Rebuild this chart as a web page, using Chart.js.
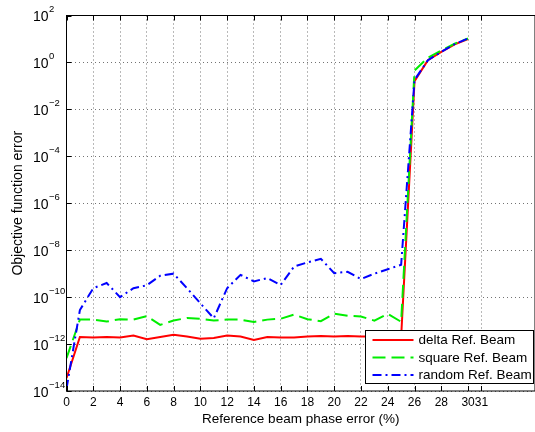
<!DOCTYPE html>
<html>
<head>
<meta charset="utf-8">
<script src="https://cdn.jsdelivr.net/npm/chart.js@4.4.1/dist/chart.umd.min.js"></script>
<style>
  html, body { margin: 0; padding: 0; background: #fff; }
</style>
</head>
<body>
<canvas id="c" width="535" height="432"></canvas>
<script>
// phase error (%) on x, objective function error on y (log)
const phaseErr = [0, 1, 2, 3, 4, 5, 6, 7, 8, 9, 10, 11, 12, 13, 14, 15, 16, 17, 18, 19, 20, 21, 22, 23, 24, 25, 26, 27, 28, 29, 30];

const deltaErr = [3.5e-14, 2.0e-12, 1.9e-12, 2.0e-12, 1.9e-12, 2.3e-12, 1.6e-12, 2.0e-12, 2.5e-12, 2.1e-12,
  1.7e-12, 1.8e-12, 2.3e-12, 2.1e-12, 1.5e-12, 2.0e-12, 1.9e-12, 1.9e-12, 2.1e-12, 2.2e-12,
  2.1e-12, 2.2e-12, 2.1e-12, 2.1e-12, 2.1e-12, 2.0e-12, 0.16, 1.25, 2.8, 5.9, 10];

const squareErr = [2.5e-13, 1.1e-11, 1.1e-11, 9.1e-12, 1.15e-11, 1.1e-11, 1.55e-11, 6.6e-12, 1.0e-11, 1.3e-11,
  1.2e-11, 1.0e-11, 1.1e-11, 1.1e-11, 8.7e-12, 1.1e-11, 1.2e-11, 1.8e-11, 1.15e-11, 9.5e-12,
  1.95e-11, 1.6e-11, 1.5e-11, 1.0e-11, 1.95e-11, 8.9e-12, 0.45, 1.6, 3.2, 6.3, 10.5];

const randomErr = [1.25e-14, 2.8e-11, 2.4e-10, 4.0e-10, 1.0e-10, 2.4e-10, 3.2e-10, 8.1e-10, 1.0e-9, 2.4e-10,
  5.5e-11, 1.25e-11, 2.4e-10, 8.9e-10, 4.7e-10, 6.5e-10, 3.3e-10, 2.0e-9, 3.0e-9, 4.3e-9,
  1.05e-9, 1.2e-9, 5.9e-10, 1.0e-9, 1.55e-9, 2.4e-9, 0.18, 1.25, 2.8, 6.0, 10.5];

const seriesNames = ['delta Ref. Beam', 'square Ref. Beam', 'random Ref. Beam'];
const xTicks = [0, 2, 4, 6, 8, 10, 12, 14, 16, 18, 20, 22, 24, 26, 28, 30, 31];
const yTickExp = [-14, -12, -10, -8, -6, -4, -2, 0, 2];

const FONT = 'Liberation Sans, Arial, Helvetica, sans-serif';
const pts = arr => phaseErr.map((x, i) => ({ x: x, y: arr[i] }));

// frame, inward ticks, 10^n labels and the boxed legend (matlab look)
const matlabBits = {
  id: 'matlabBits',
  afterDatasetsDraw(chart) {
    const ctx = chart.ctx;
    const a = chart.chartArea;
    const xs = chart.scales.x, ys = chart.scales.y;
    ctx.save();
    ctx.strokeStyle = '#000';
    ctx.lineWidth = 1;
    ctx.setLineDash([]);
    ctx.strokeRect(a.left, a.top, a.right - a.left, a.bottom - a.top);

    ctx.beginPath();
    xTicks.forEach(v => {
      const px = Math.round(xs.getPixelForValue(v)) + 0.5;
      ctx.moveTo(px, a.bottom); ctx.lineTo(px, a.bottom - 5);
      ctx.moveTo(px, a.top); ctx.lineTo(px, a.top + 5);
    });
    yTickExp.forEach(e => {
      const py = Math.round(ys.getPixelForValue(Math.pow(10, e))) + 0.5;
      ctx.moveTo(a.left, py); ctx.lineTo(a.left + 5, py);
    });
    ctx.stroke();

    // y tick labels 10^n
    ctx.fillStyle = '#000';
    ctx.textAlign = 'left';
    ctx.textBaseline = 'middle';
    yTickExp.forEach(e => {
      const py = ys.getPixelForValue(Math.pow(10, e));
      ctx.font = '14px ' + FONT;
      ctx.fillText('10', 33, py + 2);
      const w = ctx.measureText('10').width;
      ctx.font = '9.5px ' + FONT;
      ctx.fillText(e < 0 ? '\u2212' + Math.abs(e) : String(e), 33 + w + 0.5, py - 6);
    });

    // legend
    const lx = 365.5, ly = 330.5, lw = 168, lh = 53;
    ctx.fillStyle = '#fff';
    ctx.fillRect(lx, ly, lw, lh);
    ctx.strokeStyle = '#000';
    ctx.lineWidth = 1;
    ctx.strokeRect(lx, ly, lw, lh);
    ctx.font = '13.5px ' + FONT;
    chart.data.datasets.forEach((ds, i) => {
      const ry = 340 + i * 17.5;
      ctx.save();
      ctx.strokeStyle = ds.borderColor;
      ctx.lineWidth = ds.borderWidth;
      ctx.setLineDash(ds.borderDash || []);
      ctx.beginPath();
      ctx.moveTo(372.5, ry); ctx.lineTo(413.5, ry);
      ctx.stroke();
      ctx.restore();
      ctx.fillStyle = '#000';
      ctx.fillText(ds.label, 418.5, ry + 0.5);
    });
    ctx.restore();
  }
};

const gridStyle = { color: 'rgba(0,0,0,0.55)', lineWidth: 1, drawTicks: false };

new Chart(document.getElementById('c'), {
  type: 'line',
  data: {
    datasets: [
      { label: seriesNames[0], data: pts(deltaErr), borderColor: '#ff0000', borderWidth: 2, borderDash: [], order: 3 },
      { label: seriesNames[1], data: pts(squareErr), borderColor: '#00ee00', borderWidth: 2, borderDash: [13, 6], order: 2 },
      { label: seriesNames[2], data: pts(randomErr), borderColor: '#0000ff', borderWidth: 2, borderDash: [9, 4, 2, 4], order: 1 }
    ]
  },
  options: {
    responsive: false,
    devicePixelRatio: 1,
    animation: false,
    events: [],
    elements: { point: { radius: 0 }, line: { tension: 0, fill: false } },
    layout: { padding: { left: 0, right: -6.5, top: 15.5, bottom: 0 } },
    plugins: { legend: { display: false }, tooltip: { enabled: false } },
    scales: {
      x: {
        type: 'linear', min: 0, max: 35,
        afterBuildTicks: s => { s.ticks = xTicks.map(v => ({ value: v })); },
        afterFit: s => { s.height = 41; },
        ticks: { autoSkip: false, maxRotation: 0, padding: 4, color: '#000', font: { family: FONT, size: 12 } },
        grid: gridStyle,
        border: { display: false, dash: [1, 3] },
        title: { display: true, text: 'Reference beam phase error (%)', color: '#000',
                 font: { family: FONT, size: 13.5 }, padding: { top: 0, bottom: 5 } }
      },
      y: {
        type: 'logarithmic', min: 1e-14, max: 1e2,
        afterBuildTicks: s => { s.ticks = yTickExp.map(e => ({ value: Math.pow(10, e) })); },
        afterFit: s => { s.width = 66.5; },
        ticks: { display: false },
        grid: gridStyle,
        border: { display: false, dash: [1, 3] },
        title: { display: true, text: 'Objective function error', color: '#000',
                 font: { family: FONT, size: 14 }, padding: { top: 10, bottom: 0 } }
      }
    }
  },
  plugins: [matlabBits]
});
</script>
</body>
</html>
